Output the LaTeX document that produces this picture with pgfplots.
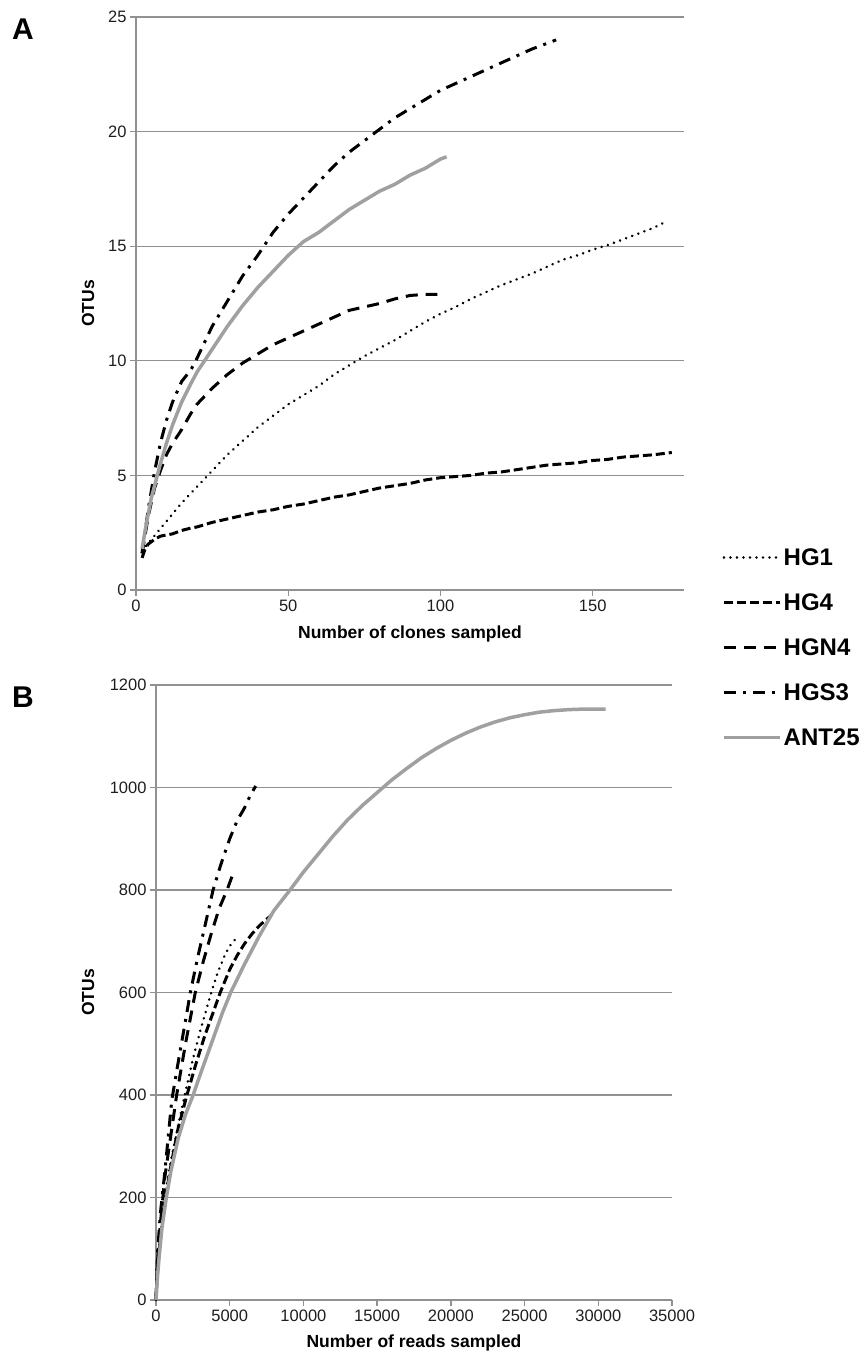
\documentclass[border=0pt]{standalone}
\usepackage{pgfplots}
\pgfplotsset{compat=1.18}
\usepackage{fontspec}
\setmainfont{Liberation Sans}
\definecolor{gridgray}{RGB}{145,145,145}
\definecolor{antgray}{RGB}{160,160,160}
\definecolor{ticktext}{RGB}{30,30,30}
\pgfplotsset{
  common/.style={
    scale only axis,
    axis x line*=bottom, axis y line*=left,
    axis line style={draw=gridgray, line width=1.3bp, -},
    ymajorgrids, grid style={draw=gridgray, line width=1.3bp},
    tick align=outside, major tick length=6bp,
    tick style={draw=gridgray, line width=1.3bp},
    tick label style={font=\fontsize{16.5bp}{18bp}\selectfont, text=ticktext},
    label style={font=\fontsize{17.5bp}{20bp}\selectfont\bfseries},
    scaled ticks=false,
    clip=false,
  },
  hg1/.style={black, line width=2.8bp, line cap=round, dash pattern=on 0.01bp off 6.5bp},
  hg4/.style={black, line width=3bp, dash pattern=on 9bp off 4bp},
  hgn4/.style={black, line width=3bp, dash pattern=on 12bp off 8bp},
  hgs3/.style={black, line width=3bp, dash pattern=on 12bp off 7bp on 3bp off 7bp},
  ant/.style={antgray, line width=3.5bp},
}
\begin{document}
\begin{tikzpicture}
\path (0,0) rectangle (863bp,-1358bp);
\node[font=\fontsize{30bp}{32bp}\selectfont\bfseries] at (23bp,-29bp) {A};
\node[font=\fontsize{30bp}{32bp}\selectfont\bfseries] at (23bp,-697bp) {B};
% Panel A
\begin{axis}[common,
  at={(136bp,-590bp)}, anchor=south west,
  width=548bp, height=573bp,
  xmin=0, xmax=180, ymin=0, ymax=25,
  xtick={0,50,100,150}, xticklabels={0,50,100,150},
  ytick={0,5,10,15,20,25}, yticklabels={0,5,10,15,20,25},
  xlabel={Number of clones sampled},
  ylabel={OTUs},
  xlabel style={at={(axis description cs:0.5,-0.0768)}, anchor=center},
  ylabel style={at={(axis description cs:-0.0876,0.5)}, anchor=center},
  legend style={draw=none, fill=none, inner sep=0pt,
    at={(axis description cs:1.0693,-0.1004)}, anchor=west,
    font=\fontsize{24bp}{26bp}\selectfont\bfseries, row sep=22.7bp,
    /tikz/every even column/.append style={column sep=4bp}},
  legend cell align=left,
  legend image code/.code={\draw[#1] (0bp,0bp) -- (56bp,0bp);},
]
\addplot[hg1] coordinates {
(2,1.7) (5,2.2) (10,3.0) (15,3.8) (20,4.5) (25,5.2) (30,5.9) (35,6.5) (40,7.1) (45,7.6)
(50,8.1) (55,8.5) (60,8.9) (65,9.4) (70,9.8) (75,10.2) (80,10.55) (85,10.9) (90,11.3) (95,11.7)
(100,12.05) (105,12.35) (110,12.7) (115,13.0) (120,13.3) (125,13.55) (130,13.8) (135,14.1) (140,14.4)
(145,14.6) (150,14.85) (155,15.05) (160,15.3) (165,15.55) (170,15.8) (173,16.0)};
\addlegendentry{HG1}
\addplot[hg4] coordinates {
(2,1.4) (3,1.8) (4,2.0) (6,2.2) (8,2.35) (10,2.4) (12,2.45) (15,2.6) (18,2.7) (20,2.75) (25,2.95)
(30,3.1) (35,3.25) (40,3.4) (45,3.5) (50,3.65) (55,3.75) (60,3.9) (65,4.05) (70,4.15) (75,4.3)
(80,4.45) (85,4.55) (90,4.65) (95,4.8) (100,4.9) (105,4.95) (110,5.0) (115,5.1) (120,5.15)
(125,5.25) (130,5.35) (135,5.45) (140,5.5) (145,5.55) (150,5.65) (155,5.7) (160,5.8) (165,5.85)
(170,5.9) (176,6.0)};
\addlegendentry{HG4}
\addplot[hgn4] coordinates {
(2,1.6) (4,3.2) (6,4.4) (8,5.2) (10,5.9) (12,6.4) (15,7.0) (18,7.7) (20,8.1) (25,8.8) (30,9.4)
(35,9.9) (40,10.3) (45,10.7) (50,11.0) (55,11.3) (60,11.6) (65,11.9) (70,12.2) (75,12.35)
(80,12.5) (85,12.7) (90,12.85) (95,12.9) (99,12.9)};
\addlegendentry{HGN4}
\addplot[hgs3] coordinates {
(2,1.6) (4,3.5) (6,5.1) (8,6.4) (10,7.4) (12,8.2) (15,9.1) (18,9.6) (20,10.1) (25,11.5) (30,12.6)
(35,13.7) (40,14.6) (45,15.6) (50,16.4) (55,17.1) (60,17.8) (65,18.5) (70,19.1) (75,19.6)
(80,20.1) (85,20.6) (90,21.0) (95,21.4) (100,21.8) (105,22.1) (110,22.4) (115,22.7) (120,23.0)
(125,23.3) (130,23.6) (135,23.85) (138,24.0)};
\addlegendentry{HGS3}
\addplot[ant] coordinates {
(2,1.8) (3,2.6) (4,3.3) (5,4.0) (6,4.5) (7,5.0) (8,5.5) (10,6.4) (12,7.2) (15,8.2) (18,9.0)
(20,9.5) (23,10.1) (25,10.5) (30,11.5) (35,12.4) (40,13.2) (45,13.9) (50,14.6) (55,15.2)
(60,15.6) (65,16.1) (70,16.6) (75,17.0) (80,17.4) (85,17.7) (90,18.1) (95,18.4) (100,18.8) (102,18.9)};
\addlegendentry{ANT25}
\end{axis}
% Panel B
\begin{axis}[common,
  at={(156bp,-1300bp)}, anchor=south west,
  width=516bp, height=615bp,
  xmin=0, xmax=35000, ymin=0, ymax=1200,
  xtick={0,5000,10000,15000,20000,25000,30000,35000},
  xticklabels={0,5000,10000,15000,20000,25000,30000,35000},
  ytick={0,200,400,600,800,1000,1200},
  yticklabels={0,200,400,600,800,1000,1200},
  xlabel={Number of reads sampled},
  ylabel={OTUs},
  xlabel style={at={(axis description cs:0.5,-0.0699)}, anchor=center},
  ylabel style={at={(axis description cs:-0.1318,0.5)}, anchor=center},
]
\addplot[hg1] coordinates {
(0,0) (100,60) (300,130) (600,200) (1000,270) (1500,340) (1950,400) (2500,470) (3000,525)
(3400,565) (3747,600) (4200,640) (4700,675) (5100,695) (5418,705)};
\addplot[hg4] coordinates {
(0,0) (100,55) (300,125) (650,200) (1000,260) (1500,335) (2100,400) (2700,460) (3300,515)
(3800,555) (4357,600) (5000,645) (5500,672) (6000,695) (6500,714) (7000,730) (7500,743) (7800,750)};
\addplot[hgn4] coordinates {
(0,0) (100,75) (300,150) (600,240) (1000,320) (1400,400) (2000,500) (2665,600) (3200,660)
(3800,720) (4300,765) (4820,800) (5200,830)};
\addplot[hgs3] coordinates {
(0,0) (100,90) (300,170) (600,250) (1070,390) (1600,480) (2000,545) (2330,600) (2800,665)
(3400,740) (3870,800) (4400,850) (5000,900) (5500,935) (6000,960) (6400,985) (6765,1003)};
\addplot[ant] coordinates {
(0,0) (100,45) (200,80) (400,140) (700,200) (1000,250) (1500,315) (2000,362) (2520,400)
(3000,440) (3500,480) (4000,520) (4500,560) (5066,600) (6000,655) (7000,710) (8000,760)
(9090,800) (10000,835) (11000,870) (12000,905) (13000,937) (14000,965) (15000,990)
(16000,1015) (17000,1037) (18000,1058) (19000,1076) (20000,1092) (21000,1106) (22000,1118)
(23000,1128) (24000,1136) (25000,1142) (26000,1147) (27000,1150) (28000,1152) (29000,1153) (30500,1153)};
\end{axis}
\end{tikzpicture}
\end{document}
